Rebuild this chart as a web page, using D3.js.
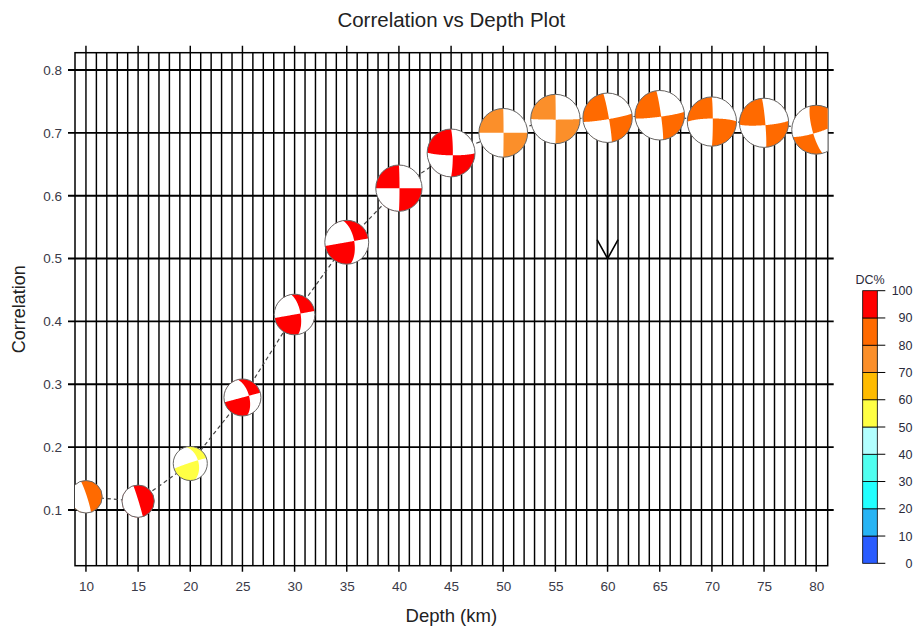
<!DOCTYPE html>
<html><head><meta charset="utf-8">
<script src="https://cdn.jsdelivr.net/npm/d3@7"></script>
<style>body{margin:0;background:#fff}svg{display:block;font-family:"Liberation Sans",Arial,Helvetica,sans-serif}</style>
</head><body><svg id="chart" width="917" height="626"></svg>
<script>
// ---- data ----
const depths       = [10, 15, 20, 25, 30, 35, 40, 45, 50, 55, 60, 65, 70, 75, 80];
const correlations = [0.121, 0.114, 0.174, 0.279, 0.411, 0.526, 0.612, 0.668, 0.700, 0.722, 0.724, 0.728, 0.718, 0.716, 0.705];
const dcPercent    = [85, 95, 55, 95, 95, 95, 95, 95, 75, 75, 85, 85, 85, 85, 85];
const strikes      = [342, 343, 345, 345, 350, 350, 0, 0, 0, 0, 350, 352, 0, 355, 165];
const dips         = [85, 88, 50, 60, 66, 62, 88, 84, 89, 89, 86, 86, 87, 86, 77];
const rakes        = [-90, -90, 5, 0, 0, 0, 180, 172, 180, 178, 175, 175, -170, 172, 10];
const xTicks = [10, 15, 20, 25, 30, 35, 40, 45, 50, 55, 60, 65, 70, 75, 80];
const yTicks = [0.1, 0.2, 0.3, 0.4, 0.5, 0.6, 0.7, 0.8];
const dcTicks = [0, 10, 20, 30, 40, 50, 60, 70, 80, 90, 100];
const dcColors = ["#2a5cff", "#28b4f4", "#22ffff", "#50fff0", "#b2ffff", "#ffff44", "#ffbb00", "#fb8f2a", "#ff6a00", "#ff0000"];
const selectedDepth = 60;
const arrowTo = 0.5;
const title = "Correlation vs Depth Plot";
const xLabel = "Depth (km)";
const yLabel = "Correlation";

// ---- layout ----
const svg = d3.select("#chart");
const L = 75, R = 827.7, T = 52.7, B = 565.7;
const x = d3.scaleLinear().domain([8.95, 81.1]).range([L, R]);
const y = d3.scaleLinear().domain([0.01139, 0.8275]).range([B, T]);
const rScale = d3.scaleLinear().domain([0.1, 0.73]).range([16, 24.8]);
const color = d3.scaleThreshold().domain(dcTicks.slice(1, 10)).range(dcColors);

svg.append("rect").attr("width", 917).attr("height", 626).attr("fill", "#fff");

// grid: vertical every km
const minor = d3.range(10, 81);
svg.append("g").selectAll("line").data(minor).join("line")
  .attr("x1", d => x(d)).attr("x2", d => x(d))
  .attr("y1", d => xTicks.includes(d) ? T - 7 : T)
  .attr("y2", d => xTicks.includes(d) ? B + 6 : B)
  .attr("stroke", "#000").attr("stroke-width", 1.45);
// horizontal
svg.append("g").selectAll("line").data(yTicks).join("line")
  .attr("x1", L - 7).attr("x2", R + 6)
  .attr("y1", d => y(d)).attr("y2", d => y(d))
  .attr("stroke", "#000").attr("stroke-width", 1.9);
// frame
svg.append("rect").attr("x", L).attr("y", T).attr("width", R - L).attr("height", B - T)
  .attr("fill", "none").attr("stroke", "#000").attr("stroke-width", 1.5);

// axis labels via d3 axes (tick lines drawn by the grid)
const ax = svg.append("g").attr("transform", `translate(0,${B})`)
  .call(d3.axisBottom(x).tickValues(xTicks).tickSize(0).tickPadding(16).tickFormat(d3.format("d")));
ax.select(".domain").remove();
ax.selectAll("text").attr("font-size", 13.5).attr("fill", "#3a3a48").attr("font-family", "Liberation Sans, Arial, sans-serif");
const ay = svg.append("g").attr("transform", `translate(${L},0)`)
  .call(d3.axisLeft(y).tickValues(yTicks).tickSize(0).tickPadding(13).tickFormat(d3.format(".1f")));
ay.select(".domain").remove();
ay.selectAll("text").attr("font-size", 13.5).attr("fill", "#3a3a48").attr("font-family", "Liberation Sans, Arial, sans-serif");

// titles
svg.append("text").attr("x", (L + R) / 2).attr("y", 27).attr("text-anchor", "middle")
  .attr("font-size", 20.5).attr("fill", "#222").text(title);
svg.append("text").attr("x", (L + R) / 2).attr("y", 622).attr("text-anchor", "middle")
  .attr("font-size", 18.5).attr("fill", "#222").text(xLabel);
svg.append("text").attr("transform", `translate(25,${(T + B) / 2}) rotate(-90)`).attr("text-anchor", "middle")
  .attr("font-size", 18).attr("fill", "#222").text(yLabel);

// clip for plot area
svg.append("defs").append("clipPath").attr("id", "plotclip")
  .append("rect").attr("x", L).attr("y", T).attr("width", R - L).attr("height", B - T);
const plot = svg.append("g").attr("clip-path", "url(#plotclip)");

// dashed connecting line
const pts = depths.map((d, i) => [x(d), y(correlations[i])]);
plot.append("path").attr("d", d3.line()(pts)).attr("fill", "none")
  .attr("stroke", "#444").attr("stroke-width", 1.2).attr("stroke-dasharray", "4,3");

// arrow at selected depth
const si = depths.indexOf(selectedDepth);
const ax0 = x(selectedDepth), ay0 = y(correlations[si]), ay1 = y(arrowTo);
plot.append("line").attr("x1", ax0).attr("x2", ax0).attr("y1", ay0).attr("y2", ay1)
  .attr("stroke", "#000").attr("stroke-width", 1.5);
plot.append("path").attr("d", `M${ax0 - 10.5},${ay1 - 19}L${ax0},${ay1}L${ax0 + 10.5},${ay1 - 19}`)
  .attr("fill", "none").attr("stroke", "#000").attr("stroke-width", 1.6);

// ---- beachballs ----
const RAD = Math.PI / 180;
function cross(a, b) { return [a[1]*b[2]-a[2]*b[1], a[2]*b[0]-a[0]*b[2], a[0]*b[1]-a[1]*b[0]]; }
function proj(v, r) {
  const h = Math.hypot(v[0], v[1]);
  if (h < 1e-12) return [0, 0];
  const rho = Math.sqrt(Math.max(0, 1 - v[2]));
  return [r * rho * v[1] / h, -r * rho * v[0] / h];
}
function halfRegion(m, r) {
  const h = Math.hypot(m[0], m[1]);
  const u = [-m[1] / h, m[0] / h, 0];
  let w = cross(m, u); if (w[2] < 0) w = w.map(c => -c);
  const p = [];
  for (let t = 0; t <= 180; t += 2) {
    const c = Math.cos(t * RAD), s = Math.sin(t * RAD);
    p.push(proj([c*u[0]+s*w[0], c*u[1]+s*w[1], c*u[2]+s*w[2]], r));
  }
  const hm = Math.atan2(m[1], m[0]) / RAD;
  for (let a = hm - 90; a <= hm + 90.001; a += 2) p.push([r * Math.sin(a * RAD), -r * Math.cos(a * RAD)]);
  return "M" + p.map(q => q[0].toFixed(2) + "," + q[1].toFixed(2)).join("L") + "Z";
}
function circlePath(r) { return `M${-r},0A${r},${r} 0 1,0 ${r},0A${r},${r} 0 1,0 ${-r},0Z`; }
function ballPath(s, d, k, r) {
  s *= RAD; d *= RAD; k *= RAD;
  const n = [-Math.sin(d)*Math.sin(s), Math.sin(d)*Math.cos(s), -Math.cos(d)];
  const sl = [Math.cos(k)*Math.cos(s) + Math.cos(d)*Math.sin(k)*Math.sin(s),
              Math.cos(k)*Math.sin(s) - Math.cos(d)*Math.sin(k)*Math.cos(s),
              -Math.sin(k)*Math.sin(d)];
  return circlePath(r) + halfRegion(n, r) + halfRegion(sl, r);
}

const balls = plot.selectAll("g.ball").data(depths).join("g").attr("class", "ball")
  .attr("transform", (d, i) => `translate(${x(d)},${y(correlations[i])})`);
balls.append("path").attr("d", (d, i) => circlePath(rScale(correlations[i]))).attr("fill", "#fff");
balls.append("path").attr("d", (d, i) => ballPath(strikes[i], dips[i], rakes[i], rScale(correlations[i])))
  .attr("fill", (d, i) => color(dcPercent[i])).attr("fill-rule", "evenodd").attr("stroke", "none");
balls.append("path").attr("d", (d, i) => circlePath(rScale(correlations[i])))
  .attr("fill", "none").attr("stroke", "#666").attr("stroke-width", 1);

// ---- colorbar ----
const cb = svg.append("g");
const cy = d3.scaleLinear().domain([0, 100]).range([563.3, 290.7]);
const cbx = 862.7, cbw = 14.6;
cb.selectAll("rect").data(dcColors).join("rect")
  .attr("x", cbx).attr("width", cbw)
  .attr("y", (c, i) => cy((i + 1) * 10)).attr("height", (c, i) => cy(i * 10) - cy((i + 1) * 10))
  .attr("fill", c => c).attr("stroke", "#000").attr("stroke-width", 0.8);
cb.selectAll("line.t").data(dcTicks).join("line").attr("class", "t")
  .attr("x1", cbx + cbw).attr("x2", cbx + cbw + 8).attr("y1", d => cy(d)).attr("y2", d => cy(d))
  .attr("stroke", "#000").attr("stroke-width", 1);
cb.selectAll("text.l").data(dcTicks).join("text").attr("class", "l")
  .attr("x", 912.5).attr("y", d => cy(d)).attr("dy", "0.36em").attr("text-anchor", "end")
  .attr("font-size", 12.5).attr("fill", "#2a2a3a").text(d => d);
cb.append("text").attr("x", 870).attr("y", 284).attr("text-anchor", "middle")
  .attr("font-size", 12.5).attr("fill", "#2a2a3a").text("DC%");
</script></body></html>
